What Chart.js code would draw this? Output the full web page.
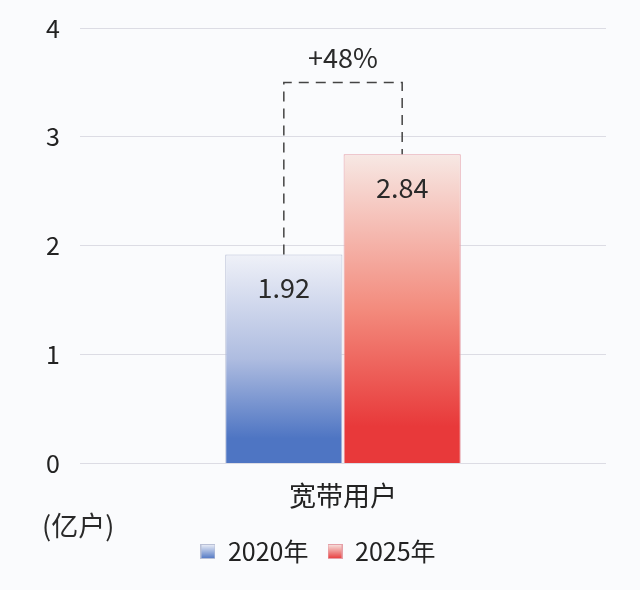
<!DOCTYPE html>
<html>
<head>
<meta charset="utf-8">
<script src="https://cdn.jsdelivr.net/npm/chart.js@4/dist/chart.umd.min.js"></script>
<style>
  html, body { margin: 0; padding: 0; background: #fafbfd; }
  #wrap { width: 640px; height: 590px; }
</style>
</head>
<body>
<div id="wrap"><canvas id="c" width="640" height="590"></canvas></div>
<script>
// data
const categories = ['宽带用户'];
const seriesNames = ['2020年', '2025年'];
const values2020 = [1.92];
const values2025 = [2.84];
const growthLabel = '+48%';
const yTicks = [0, 1, 2, 3, 4];

const FONT = "'Noto Sans CJK SC', 'Noto Sans', sans-serif";
Chart.defaults.font.family = FONT;
Chart.defaults.color = '#222';

const stops = [
    ['#eff1f8', '#aebce0', '#4e75c3'],
    ['#f7e8e4', '#f38b7d', '#e8393a'],
];
const borders = ['#b9c0d6', '#e5a0a8'];

function barGradient(context, i) {
    const chart = context.chart;
    const area = chart.chartArea;
    if (!area || context.parsed == null) return stops[i][2];
    const y = chart.scales.y;
    const top = y.getPixelForValue(context.parsed.y);
    const bottom = y.getPixelForValue(0);
    const g = chart.ctx.createLinearGradient(0, top, 0, bottom);
    g.addColorStop(0, stops[i][0]);
    g.addColorStop(0.5, stops[i][1]);
    g.addColorStop(0.88, stops[i][2]);
    g.addColorStop(1, stops[i][2]);
    return g;
}

// small gradient squares for the legend
function legendSwatch(i) {
    const cv = document.createElement('canvas');
    cv.width = 15; cv.height = 15;
    const c = cv.getContext('2d');
    const g = c.createLinearGradient(0, 0, 0, 15);
    g.addColorStop(0, stops[i][0]);
    g.addColorStop(1, stops[i][2]);
    c.fillStyle = g;
    c.fillRect(0, 0, 15, 15);
    c.strokeStyle = borders[i];
    c.lineWidth = 1;
    c.strokeRect(0.5, 0.5, 14, 14);
    return cv;
}

const extras = {
    id: 'extras',
    afterLayout(chart) {
        // legend sits a little right of the plot centre
        chart.legend.left += 15;
        chart.legend.right += 15;
    },
    afterDatasetsDraw(chart) {
        const ctx = chart.ctx;
        const y = chart.scales.y;
        const b0 = chart.getDatasetMeta(0).data[0];
        const b1 = chart.getDatasetMeta(1).data[0];

        // values inside bars
        ctx.save();
        ctx.fillStyle = '#2a2a2a';
        ctx.font = '27px ' + FONT;
        ctx.textAlign = 'center';
        ctx.textBaseline = 'middle';
        ctx.fillText(values2020[0].toFixed(2), b0.x, b0.y + 33);
        ctx.fillText(values2025[0].toFixed(2), b1.x, b1.y + 33);

        // dashed bracket
        const topY = y.getPixelForValue(3.5);
        ctx.strokeStyle = '#444';
        ctx.lineWidth = 1.5;
        ctx.setLineDash([10, 7]);
        ctx.beginPath();
        ctx.moveTo(b0.x, b0.y);
        ctx.lineTo(b0.x, topY);
        ctx.lineTo(b1.x, topY);
        ctx.lineTo(b1.x, b1.y);
        ctx.stroke();
        ctx.setLineDash([]);
        ctx.fillText(growthLabel, (b0.x + b1.x) / 2, topY - 25);

        // unit label
        ctx.font = '27px ' + FONT;
        ctx.textAlign = 'left';
        ctx.fillText('(亿户)', 42, 526);
        ctx.restore();
    }
};

new Chart(document.getElementById('c'), {
    type: 'bar',
    data: {
        labels: categories,
        datasets: [
            {
                label: seriesNames[0],
                data: values2020,
                backgroundColor: (ctx) => barGradient(ctx, 0),
                borderColor: borders[0],
                borderWidth: 1,
                pointStyle: legendSwatch(0),
            },
            {
                label: seriesNames[1],
                data: values2025,
                backgroundColor: (ctx) => barGradient(ctx, 1),
                borderColor: borders[1],
                borderWidth: 1,
                pointStyle: legendSwatch(1),
            },
        ],
    },
    options: {
        responsive: false,
        animation: false,
        layout: {
            padding: { left: 0, right: 34, top: 0, bottom: 16 },
        },
        datasets: {
            bar: {
                categoryPercentage: 0.45,
                barPercentage: 0.99,
            },
        },
        scales: {
            x: {
                grid: { display: false },
                border: { display: false },
                ticks: {
                    font: { size: 27 },
                    color: '#222',
                    padding: 8,
                },
            },
            y: {
                min: 0,
                max: 4,
                afterBuildTicks: (axis) => {
                    axis.ticks = yTicks.map((v) => ({ value: v }));
                },
                afterFit: (axis) => {
                    axis.width = 80;
                    axis.paddingTop = 28;
                },
                grid: { color: '#dcdce4', lineWidth: 1, drawTicks: false },
                border: { display: false },
                ticks: {
                    font: { size: 25 },
                    color: '#222',
                    padding: 20,
                },
            },
        },
        plugins: {
            legend: {
                position: 'bottom',
                labels: {
                    usePointStyle: true,
                    font: { size: 25 },
                    color: '#222',
                    padding: 19,
                    boxWidth: 15,
                },
            },
            tooltip: { enabled: false },
        },
    },
    plugins: [extras],
});
</script>
</body>
</html>
